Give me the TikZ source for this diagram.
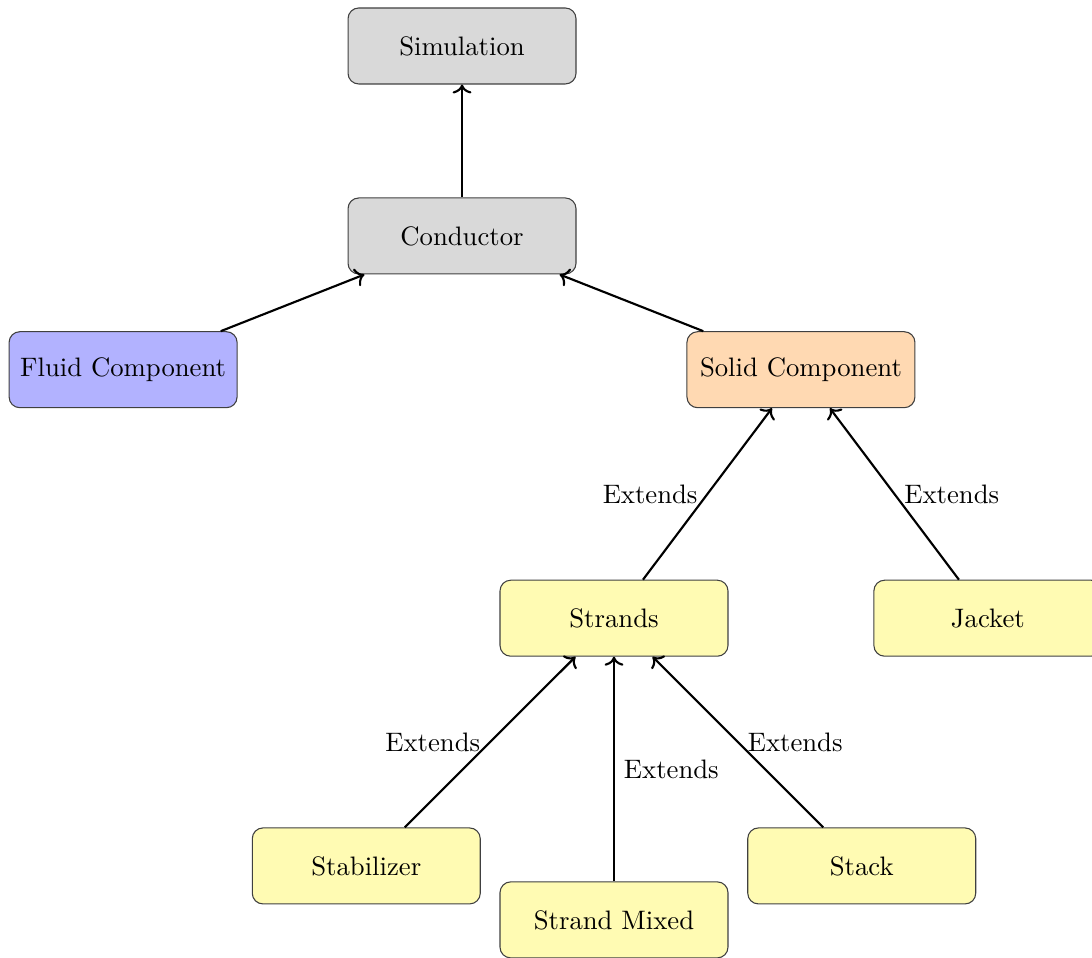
\documentclass[tikz,border=0pt]{standalone}
\usetikzlibrary{positioning}
\usetikzlibrary{arrows.meta, shapes, calc}

\tikzset{
    block/.style={rectangle, draw=black!75, rounded corners, minimum width=3cm, minimum height=1cm, align=center},
    topblock/.style={block, fill=gray!30},
    fluidblock/.style={block, fill=blue!30},
    solidblock/.style={block, fill=orange!30},
    subblock/.style={block, fill=yellow!30},
    link/.style={->, thick}
}

\begin{document}
\begin{tikzpicture}
    \useasboundingbox (-6.08,-9.5) rectangle (8.29,3.105);

    % Khối trên cùng
    \node[topblock] (sim) at (0,2.5) {Simulation};
    \node[topblock] (cond) at (0,0) {Conductor};
    \draw[link] (cond) -- (sim);

    % Hai thành phần chính
    \node[fluidblock] (fluid) at (-4.46,-1.76) {Fluid Component};
    \node[solidblock] (solid) at (4.46,-1.76) {Solid Component};
    \draw[link] (fluid) -- (cond);
    \draw[link] (solid) -- (cond);

    % Các lớp con của Solid Component
    \node[subblock] (strands) at (2.0,-5.03) {Strands};
    \node[subblock] (jacket) at (6.92,-5.03) {Jacket};
    \draw[link] (strands) -- node[left] {Extends} (solid);
    \draw[link] (jacket) -- node[right] {Extends} (solid);

    % Các lớp con của Strands
    \node[subblock] (stab) at (-1.26,-8.29) {Stabilizer};
    \node[subblock] (mixed) at (2.0,-9.0) {Strand Mixed};
    \node[subblock] (stack) at (5.26,-8.29) {Stack};
    \draw[link] (stab) -- node[left] {Extends} (strands);
    \draw[link] (mixed) -- node[right] {Extends} (strands);
    \draw[link] (stack) -- node[right] {Extends} (strands);
\end{tikzpicture}
\end{document}
